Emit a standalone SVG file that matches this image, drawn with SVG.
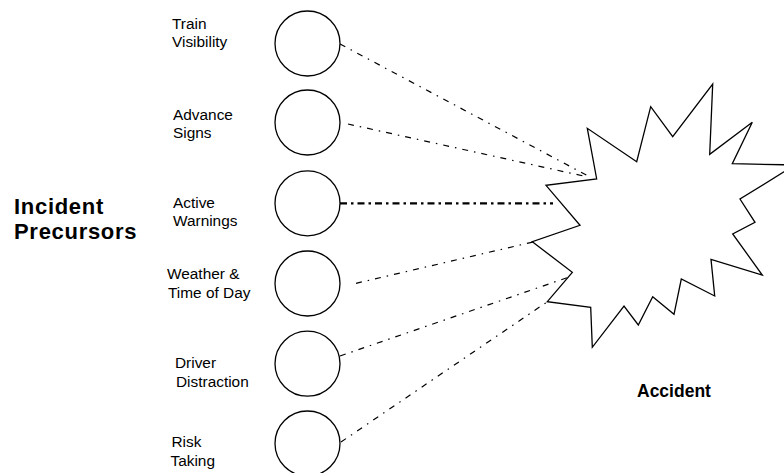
<svg xmlns="http://www.w3.org/2000/svg" width="784" height="473" viewBox="0 0 784 473">
<style>
.lbl{font-family:"Liberation Sans",Arial,sans-serif;font-size:15.4px;fill:#000}
.big{font-family:"Liberation Sans",Arial,sans-serif;font-weight:bold;fill:#000}
.node{fill:#fff;stroke:#000;stroke-width:1.3}
.conn{fill:none;stroke:#000;stroke-width:1.2;stroke-dasharray:6 6 1.5 6}
.thick{fill:none;stroke:#000;stroke-width:2.3;stroke-dasharray:7 4 2.5 4}
</style>
<rect width="784" height="473" fill="#fff"/>
<g id="connectors">
<line class="conn" x1="340" y1="44" x2="590" y2="177"/>
<line class="conn" x1="348" y1="124" x2="588" y2="177"/>
<line class="thick" x1="340" y1="203.3" x2="553" y2="203.3"/>
<line class="conn" x1="356" y1="283.3" x2="533" y2="242"/>
<line class="conn" x1="340" y1="356" x2="570" y2="276.7"/>
<line class="conn" x1="341" y1="442" x2="547" y2="302"/>
</g>
<g id="train-visibility">
<circle class="node" cx="307.5" cy="43.5" r="32.5"/>
<text class="lbl" x="172" y="29">Train</text>
<text class="lbl" x="172" y="47">Visibility</text>
</g>
<g id="advance-signs">
<circle class="node" cx="307.5" cy="122.5" r="32.5"/>
<text class="lbl" x="173" y="120">Advance</text>
<text class="lbl" x="173" y="138">Signs</text>
</g>
<g id="active-warnings">
<circle class="node" cx="307.5" cy="203.3" r="32.5"/>
<text class="lbl" x="173" y="208">Active</text>
<text class="lbl" x="173" y="226">Warnings</text>
</g>
<g id="weather">
<circle class="node" cx="307.5" cy="283.5" r="32.5"/>
<text class="lbl" x="167" y="279">Weather &amp;</text>
<text class="lbl" x="168" y="298">Time of Day</text>
</g>
<g id="driver-distraction">
<circle class="node" cx="307.5" cy="363.7" r="32.5"/>
<text class="lbl" x="175" y="368">Driver</text>
<text class="lbl" x="176" y="387">Distraction</text>
</g>
<g id="risk-taking">
<circle class="node" cx="307.5" cy="443.5" r="32.5"/>
<text class="lbl" x="171.5" y="447">Risk</text>
<text class="lbl" x="170.5" y="466">Taking</text>
</g>
<g id="incident-precursors">
<text class="big" x="14" y="214" font-size="22" letter-spacing="0.7">Incident</text>
<text class="big" x="14" y="238.5" font-size="22" letter-spacing="0.7">Precursors</text>
</g>
<g id="accident">
<polygon class="node" points="596.7,179 587.3,128.3 636.7,161.7 650.7,106.7 672.7,136.7 712.7,84 709.7,154.3 752.3,122.3 732.3,163.7 795,165 740,199 755,222.3 732.7,234 762.3,275 711,259.3 714.7,296 681.3,279 674,314.3 652.7,296.7 638.3,325 624,306 592.3,347.3 590.7,307.3 547.3,301.7 572.3,272.3 532.3,241.7 580,225.3 546,185.3"/>
<text class="big" x="637" y="397" font-size="17.5">Accident</text>
</g>
</svg>
